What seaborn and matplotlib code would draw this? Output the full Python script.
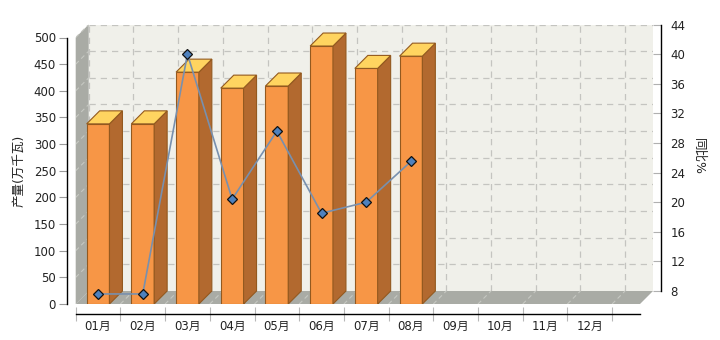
import numpy as np
import pandas as pd
import matplotlib
matplotlib.use("Agg")
import matplotlib.pyplot as plt
from matplotlib.patches import Polygon, Rectangle
import seaborn as sns

# ---- data ----
months = ["01月", "02月", "03月", "04月", "05月", "06月",
          "07月", "08月", "09月", "10月", "11月", "12月"]
bar_months = ["01月", "02月", "03月", "04月", "05月", "06月", "07月", "08月"]
output_values = [338, 338, 435, 405, 409, 484, 442, 465]      # 产量(万千瓦)
yoy_values = [7.6, 7.6, 40.0, 20.4, 29.6, 18.5, 20.0, 25.5]    # 同比%
left_ticks = list(range(0, 501, 50))
right_ticks = list(range(8, 45, 4))
left_label = "产量(万千瓦)"
right_label = "同比%"

sns.set_theme(style="white")
plt.rcParams["font.family"] = ["DejaVu Sans", "Noto Sans CJK SC"]
plt.rcParams["axes.unicode_minus"] = False

W, H = 720, 340
fig = plt.figure(figsize=(W / 100, H / 100), dpi=100)
fig.patch.set_facecolor("white")

# layout in pixels
L, R, T, B = 75.7, 653.0, 24.5, 304.0
FRONT_TOP = 37.5
SLOT = 44.7
DEPTH = 13.0

ax = fig.add_axes([L / W, (H - B) / H, (R - L) / W, (B - T) / H])
ax.set_facecolor("white")

xmax = -0.5 + (R - L) / SLOT
ytop = 500 * (B - T) / (B - FRONT_TOP)
dx = DEPTH / SLOT
dy = ytop - 500

df = pd.DataFrame({"month": bar_months, "value": output_values})
sns.barplot(data=df, x="month", y="value", order=months, ax=ax,
            color="#F79646", width=0.51, errorbar=None,
            edgecolor="#93591F", linewidth=0.8, saturation=1)

ax.set_xlim(-0.5, xmax)
ax.set_ylim(0, ytop)

wall_col = "#F0F0EA"
gray_col = "#A9ABA5"
grid_col = "#C4C4C0"

bar_patches = [p for p in ax.patches]

# back wall
ax.add_patch(Rectangle((-0.5 + dx, dy), xmax - (-0.5 + dx), 500, facecolor=wall_col,
                       edgecolor="none", zorder=0.1))
for v in left_ticks[1:]:
    ax.plot([-0.5 + dx, xmax], [v + dy, v + dy], color=grid_col, lw=0.9,
            ls=(0, (5, 4)), zorder=0.2)
for b in np.arange(-0.5, 12, 1.0):
    ax.plot([b + dx, b + dx], [dy, ytop], color=grid_col, lw=0.9,
            ls=(0, (5, 4)), zorder=0.2)

# side wall and floor
ax.add_patch(Polygon([(-0.5, 0), (-0.5, 500), (-0.5 + dx, ytop), (-0.5 + dx, dy)],
                     closed=True, facecolor=gray_col, edgecolor="none", zorder=0.5,
                     clip_on=False))
ax.add_patch(Polygon([(-0.5, 0), (xmax - dx, 0), (xmax, dy), (-0.5 + dx, dy)],
                     closed=True, facecolor=gray_col, edgecolor="none", zorder=0.5,
                     clip_on=False))
for v in left_ticks[1:]:
    ax.plot([-0.5, -0.5 + dx], [v, v + dy], color="#C6C8C2", lw=0.8,
            ls=(0, (4, 3)), zorder=0.6)
for b in np.arange(0.5, 12, 1.0):
    ax.plot([b, b + dx], [0, dy], color="#C6C8C2", lw=0.8,
            ls=(0, (4, 3)), zorder=0.6)

# 3D faces of bars (derived from the seaborn bars)
for p in bar_patches:
    h = p.get_height()
    if not np.isfinite(h) or h <= 0:
        continue
    x0 = p.get_x()
    x1 = x0 + p.get_width()
    p.set_zorder(3)
    ax.add_patch(Polygon([(x1, 0), (x1 + dx, dy), (x1 + dx, h + dy), (x1, h)],
                         closed=True, facecolor="#B2692F", edgecolor="#93591F",
                         linewidth=0.8, zorder=3))
    ax.add_patch(Polygon([(x0, h), (x1, h), (x1 + dx, h + dy), (x0 + dx, h + dy)],
                         closed=True, facecolor="#FFD460", edgecolor="#93591F",
                         linewidth=0.8, zorder=3))

# axes styling (left / bottom)
for s in ["top", "right"]:
    ax.spines[s].set_visible(False)
ax.spines["left"].set_position(("outward", 6))
ax.spines["left"].set_bounds(0, 500)
ax.spines["bottom"].set_position(("outward", 7))
ax.spines["bottom"].set_bounds(-0.5, xmax - dx)
for s in ["left", "bottom"]:
    ax.spines[s].set_color("black")
    ax.spines[s].set_linewidth(1.0)

ax.set_yticks(left_ticks)
ax.tick_params(axis="y", direction="out", length=6, width=0.8, color="#9A9A9A",
               labelsize=8.5, labelcolor="#222222", pad=2.2, left=True)
ax.set_xticks(range(12))
ax.set_xticklabels(months)
ax.tick_params(axis="x", which="major", length=0, labelsize=8.5,
               labelcolor="#222222", pad=4.8)
ax.set_xticks(np.arange(-0.5, 12, 1.0), minor=True)
ax.tick_params(axis="x", which="minor", direction="inout", length=10, width=0.8,
               color="#B8B8B8", bottom=True)
ax.set_xlabel("")
ax.set_ylabel(left_label, fontsize=9, color="#222222")
ax.yaxis.set_label_coords((25 - L) / (R - L), (B - 171) / (B - T))

# secondary axis with line
ax2 = ax.twinx()
r_lo = 8 - 36 * dy / 500
ax2.set_ylim(r_lo, 44)
sns.lineplot(x=list(range(len(yoy_values))), y=yoy_values, ax=ax2,
             color="#7890AE", linewidth=1.2, marker="D", markersize=5.2,
             markerfacecolor="#4F81BD", markeredgecolor="#111111",
             markeredgewidth=0.9, legend=False)
ax2.set_ylim(r_lo, 44)
ax2.set_xlim(-0.5, xmax)
for s in ["top", "left", "bottom"]:
    ax2.spines[s].set_visible(False)
ax2.spines["right"].set_position(("outward", 6))
ax2.spines["right"].set_bounds(8, 44)
ax2.spines["right"].set_color("black")
ax2.spines["right"].set_linewidth(1.0)
ax2.set_yticks(right_ticks)
ax2.tick_params(axis="y", direction="in", length=6, width=0.8, color="#B0B0B0",
                labelsize=8.5, labelcolor="#222222", pad=6.5, right=True)
ax2.grid(False)
ax.grid(False)
ax2.set_ylabel(right_label, rotation=270, fontsize=9, color="#222222", va="center")
ax2.yaxis.set_label_coords((699 - L) / (R - L), (B - 157) / (B - T))

fig.savefig("out.png", dpi=100, facecolor="white")
